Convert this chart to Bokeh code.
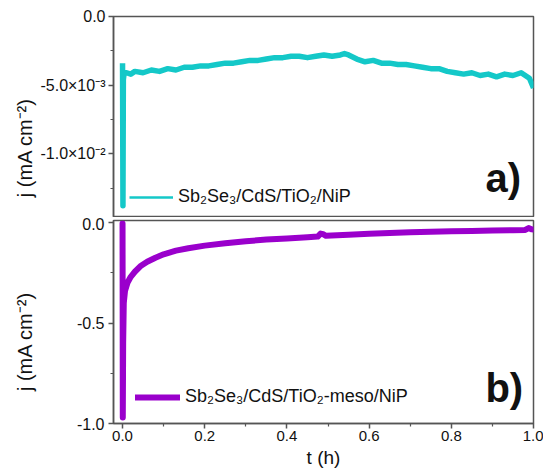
from bokeh.plotting import figure
from bokeh.models import Range1d, FixedTicker, Legend, LegendItem, Label, PrintfTickFormatter
from bokeh.layouts import column
from bokeh.embed import file_html
from bokeh.resources import INLINE
from bokeh.core.properties import value

# ---------------- data ----------------
t_a = [0.0, 0.001, 0.002, 0.004, 0.01, 0.02, 0.03, 0.05, 0.07, 0.09, 0.11, 0.13, 0.15,
       0.17, 0.19, 0.21, 0.23, 0.25, 0.27, 0.29, 0.31, 0.33, 0.35, 0.37, 0.39, 0.41,
       0.43, 0.45, 0.47, 0.49, 0.51, 0.53, 0.54, 0.55, 0.57, 0.59, 0.61, 0.63, 0.65,
       0.67, 0.69, 0.71, 0.73, 0.75, 0.77, 0.79, 0.81, 0.83, 0.85, 0.87, 0.89, 0.91,
       0.93, 0.95, 0.97, 0.99, 1.0]
j_a = [-0.0034, -0.0138, -0.0046, -0.0041, -0.0041, -0.0042, -0.0040, -0.0041, -0.0039,
       -0.0040, -0.0038, -0.0039, -0.0037, -0.0037, -0.0036, -0.0036, -0.0035, -0.0034,
       -0.0034, -0.0033, -0.0032, -0.0032, -0.0031, -0.0030, -0.0030, -0.0029, -0.0029,
       -0.0030, -0.0029, -0.0028, -0.0029, -0.0028, -0.0027, -0.0028, -0.0031, -0.0033,
       -0.0032, -0.0034, -0.0034, -0.0035, -0.0035, -0.0036, -0.0037, -0.0038, -0.0038,
       -0.0040, -0.0041, -0.0042, -0.0041, -0.0043, -0.0042, -0.0044, -0.0042, -0.0043,
       -0.0041, -0.0045, -0.0052]

t_b = [0.0, 0.0006, 0.0015, 0.003, 0.006, 0.012, 0.02, 0.03, 0.045, 0.06, 0.08, 0.10,
       0.13, 0.16, 0.20, 0.25, 0.30, 0.35, 0.40, 0.45, 0.475, 0.482, 0.488, 0.495, 0.55,
       0.60, 0.65, 0.70, 0.75, 0.80, 0.85, 0.90, 0.95, 0.98, 0.988, 0.995, 1.0]
j_b = [-0.005, -0.97, -0.60, -0.40, -0.34, -0.30, -0.27, -0.245, -0.215, -0.195, -0.175,
       -0.158, -0.140, -0.128, -0.115, -0.103, -0.093, -0.085, -0.079, -0.073, -0.070,
       -0.055, -0.058, -0.066, -0.061, -0.056, -0.052, -0.049, -0.046, -0.044, -0.042,
       -0.040, -0.038, -0.037, -0.028, -0.034, -0.035]

label_a = "Sb\u2082Se\u2083/CdS/TiO\u2082/NiP"
label_b = "Sb\u2082Se\u2083/CdS/TiO\u2082-meso/NiP"
ylabel = "j (mA cm\u207b\u00b2)"
xlabel = "t (h)"

x_major = [0.0, 0.2, 0.4, 0.6, 0.8, 1.0]
x_minor = [0.1, 0.3, 0.5, 0.7, 0.9]
ya_major = [-0.01, -0.005, 0.0]
ya_minor = [-0.0125, -0.0075, -0.0025]
ya_labels = {-0.01: "-1.0\u00d710\u207b\u00b2", -0.005: "-5.0\u00d710\u207b\u00b3", 0.0: "0.0"}
yb_major = [-1.0, -0.5, 0.0]
yb_minor = [-0.75, -0.25]

CYAN = "#14C8C8"
PURPLE = "#9A00CC"
AX = "#555555"
INK = "#111111"
FONT = "Liberation Sans"
NB = "\u00a0"

W = 543
x_range = Range1d(-0.022, 1.0)


def style_axis(ax, size="16px", standoff=4):
    ax.axis_line_color = AX
    ax.axis_line_width = 1.5
    ax.major_tick_line_color = AX
    ax.major_tick_line_width = 1.5
    ax.major_tick_out = 5
    ax.major_tick_in = 0
    ax.minor_tick_line_color = AX
    ax.minor_tick_line_width = 1.2
    ax.minor_tick_out = 3
    ax.minor_tick_in = 0
    ax.major_label_text_font = FONT
    ax.major_label_text_font_size = size
    ax.major_label_text_color = INK
    ax.major_label_standoff = standoff
    ax.axis_label_text_font = FONT
    ax.axis_label_text_font_style = "normal"
    ax.axis_label_text_color = INK


def base_fig(height, y_range, border_top, border_bottom, x_axis):
    p = figure(width=W, height=height, output_backend="svg", toolbar_location=None,
               x_range=x_range, y_range=y_range,
               min_border_left=113, min_border_right=10,
               min_border_top=border_top, min_border_bottom=border_bottom,
               x_axis_location=x_axis)
    p.grid.visible = False
    p.outline_line_color = AX
    p.outline_line_width = 1.5
    p.background_fill_color = "white"
    p.border_fill_color = "white"
    return p


def make_legend(item, loc, gw):
    return Legend(items=[item], location=loc, border_line_color=None,
                  background_fill_alpha=0, padding=0, margin=0, glyph_width=gw,
                  glyph_height=20, label_height=20, label_standoff=5,
                  label_text_font=FONT, label_text_font_size="18px",
                  label_text_color=INK)


# ---------------- panel a ----------------
pa = base_fig(217, Range1d(-0.01465, 0.0), 16, 0, None)
pa.line(t_a, j_a, line_color=CYAN, line_width=5.5, line_join="round")
proxy_a = pa.line(t_a, j_a, line_color=CYAN, line_width=2.5, visible=False)
ya = pa.yaxis[0]
style_axis(ya, "16px", 3)
ya.ticker = FixedTicker(ticks=ya_major, minor_ticks=ya_minor)
ya.major_label_overrides = ya_labels
ya.axis_label = ylabel + NB * 11
ya.axis_label_text_font_size = "20px"
ya.axis_label_standoff = 1

pa.add_layout(make_legend(LegendItem(label=value(label_a), renderers=[proxy_a]), (16, 10), 44))
pa.add_layout(Label(x=0.883, y=-0.01336, text="a)", text_font=FONT, text_font_size="40px",
                    text_font_style="bold", text_color=INK))

# ---------------- panel b ----------------
pb = base_fig(255, Range1d(-1.0, 0.01), 3, 49, "below")
rb = pb.line(t_b, j_b, line_color=PURPLE, line_width=6, line_join="round", line_cap="round")
yb = pb.yaxis[0]
xb = pb.xaxis[0]
style_axis(yb, "16px", 4)
style_axis(xb, "15px", 2)
yb.ticker = FixedTicker(ticks=yb_major, minor_ticks=yb_minor)
yb.formatter = PrintfTickFormatter(format="%.1f")
yb.axis_label = ylabel + NB * 7
yb.axis_label_text_font_size = "20px"
yb.axis_label_standoff = 38
xb.ticker = FixedTicker(ticks=x_major, minor_ticks=x_minor)
xb.formatter = PrintfTickFormatter(format="%.1f")
xb.axis_label = xlabel
xb.axis_label_text_font_size = "19px"
xb.axis_label_standoff = 3

pb.add_layout(make_legend(LegendItem(label=value(label_b), renderers=[rb]), (22, 16), 45))
pb.add_layout(Label(x=0.883, y=-0.935, text="b)", text_font=FONT, text_font_size="40px",
                    text_font_style="bold", text_color=INK))

layout = column(pa, pb, spacing=0)
open("out.html", "w").write(file_html(layout, INLINE))
